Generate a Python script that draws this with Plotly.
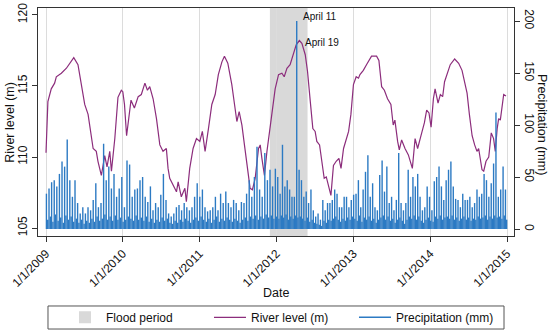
import plotly.graph_objects as go
import pandas as pd

# ---------------- data ----------------
river_dates = [
    "2009-01-01","2009-01-10","2009-01-26","2009-02-11","2009-02-19","2009-03-15","2009-04-08","2009-05-01","2009-05-13","2009-06-02",
    "2009-06-18","2009-07-04","2009-07-20","2009-08-04","2009-08-13","2009-08-28","2009-09-05","2009-09-21","2009-10-07","2009-10-18",
    "2009-10-31","2009-11-08","2009-11-24","2009-12-09","2009-12-25",
    "2010-01-01","2010-01-09","2010-01-19","2010-02-01","2010-02-09","2010-02-25","2010-03-15","2010-03-30","2010-04-16","2010-04-28",
    "2010-05-09","2010-05-25","2010-06-10","2010-06-26","2010-07-11","2010-07-27","2010-08-04","2010-08-12","2010-08-28","2010-09-13",
    "2010-09-21","2010-10-06","2010-10-23","2010-10-30","2010-11-15","2010-12-01","2010-12-17",
    "2011-01-02","2011-01-14","2011-01-27","2011-02-12","2011-02-28","2011-03-16","2011-03-31","2011-04-17","2011-04-29","2011-05-15",
    "2011-06-03","2011-06-16","2011-06-27","2011-07-08","2011-07-21","2011-08-02","2011-08-18","2011-08-29","2011-09-09","2011-09-22",
    "2011-10-08","2011-10-16","2011-10-24","2011-11-05","2011-11-17","2011-12-02","2011-12-18","2011-12-26",
    "2012-01-11","2012-01-27","2012-02-07","2012-02-20","2012-03-06","2012-03-19","2012-04-04","2012-04-19","2012-05-01","2012-05-17",
    "2012-05-28","2012-06-10","2012-06-22","2012-07-03","2012-07-11","2012-07-24","2012-08-04","2012-08-15","2012-08-25","2012-09-05",
    "2012-09-16","2012-09-28","2012-10-11","2012-10-24","2012-11-03","2012-11-15","2012-11-28","2012-12-09","2012-12-20",
    "2013-01-01","2013-01-14","2013-01-25","2013-02-01","2013-02-17","2013-03-04","2013-03-28","2013-04-21","2013-05-02","2013-05-15",
    "2013-05-28","2013-06-12","2013-06-28","2013-07-09","2013-07-17","2013-07-30","2013-08-07","2013-08-18","2013-09-03","2013-09-19",
    "2013-10-08","2013-10-21","2013-11-02","2013-11-18","2013-12-04","2013-12-15","2013-12-26",
    "2014-01-05","2014-01-16","2014-01-24","2014-02-07","2014-02-18","2014-03-01","2014-03-10","2014-03-22","2014-04-06","2014-04-27",
    "2014-05-16","2014-06-01","2014-06-13","2014-06-25","2014-07-06","2014-07-19","2014-07-31","2014-08-11","2014-08-19","2014-08-27",
    "2014-09-04","2014-09-12","2014-09-23","2014-10-06","2014-10-18","2014-10-29","2014-11-06","2014-11-15","2014-11-22","2014-11-30",
    "2014-12-08","2014-12-16","2014-12-27",
]
river_level = [
    110.3,113.9,114.8,115.2,115.65,115.9,116.25,116.7,117.0,116.5,115.1,113.7,113.0,111.5,110.6,110.4,109.7,108.7,110.1,109.3,
    110.4,109.0,111.3,114.2,114.7,
    114.6,113.7,111.5,113.0,114.0,113.45,114.25,114.4,115.2,114.7,114.95,114.1,112.7,110.85,110.4,110.6,109.2,108.5,108.0,107.55,
    108.25,107.2,107.8,106.85,109.2,110.6,111.3,
    111.1,111.8,110.4,112.0,113.7,114.4,115.8,116.7,117.1,116.6,115.1,113.7,112.5,113.2,112.25,110.85,109.2,107.8,107.7,108.5,
    110.6,110.85,109.9,108.7,110.4,112.0,113.6,114.8,
    115.8,115.9,115.65,116.25,116.5,117.2,117.9,118.2,118.0,117.2,116.0,113.9,112.0,111.8,111.1,110.85,109.7,108.5,108.6,108.0,
    107.3,109.4,109.7,109.9,109.2,110.6,111.3,111.8,113.0,
    115.1,115.65,115.55,115.8,116.1,116.5,117.1,117.1,116.8,114.95,114.7,114.1,113.7,112.25,112.6,111.1,110.5,111.2,110.6,110.15,
    109.2,111.3,110.6,111.5,112.4,113.3,113.1,
    112.1,114.1,114.8,113.8,114.4,114.25,115.3,115.9,116.5,116.9,116.6,116.1,115.3,114.5,113.0,111.5,110.85,110.4,110.6,109.7,
    109.1,109.0,109.7,110.0,111.7,111.3,110.4,112.0,112.7,112.6,113.7,114.4,114.3,
]

# precipitation (mm), read left-to-right, 2009-01 .. 2011-12
precip_2009_2011 = [
    34,9, 39,12, 45,7, 47,14, 41,8, 53,11, 65,6, 60,13, 86,9, 47,12, 31,7, 47,10, 25,6, 15,9, 21,5, 15,8, 21,6, 18,10,
    28,7, 44,12, 21,8, 25,10, 82,14, 47,9, 60,12, 39,8, 53,13, 31,9, 39,11, 50,7, 21,9, 66,12, 62,10, 31,8, 38,13, 39,9,
    47,11, 50,8, 31,12, 26,7, 41,10, 18,6, 25,9, 21,7, 33,11, 53,8, 28,10, 15,6, 12,5, 15,8, 21,6, 23,9, 18,7, 25,10,
    21,8, 18,6, 21,9, 31,11, 44,8, 31,12, 38,9, 21,7, 17,10, 18,6, 21,9, 31,12, 18,7, 34,10, 25,8, 36,11, 25,9, 21,7,
    28,10, 25,8, 18,6, 26,9, 25,11, 34,8, 47,12, 31,10, 50,13, 79,9, 38,12, 31,10, 73,14, 47,11, 57,13, 41,10,
]
# precipitation (mm), 2011-12 .. 2014-12
precip_2012_2014 = [
    58,12, 50,10, 34,13, 81,11, 41,14, 47,9, 38,12, 31,10, 31,13, 200,11, 57,12, 47,10, 31,8, 36,11, 25,7, 38,9, 18,6,
    12,5, 15,4, 9,3, 28,8, 18,6, 25,9, 25,8, 28,10, 38,12, 34,9, 21,7, 21,10, 31,8, 31,11, 21,9, 28,12, 33,10, 34,8,
    47,13, 21,7, 38,11, 55,9, 71,12, 31,8, 44,10, 21,6, 18,9, 52,11, 66,13, 36,9, 60,12, 25,8, 31,10, 18,6, 28,9,
    73,11, 25,8, 18,5, 25,9, 57,12, 31,10, 50,13, 41,9, 53,12, 31,8, 18,6, 21,9, 41,11, 31,8, 18,7, 46,12, 50,10,
    60,13, 41,9, 28,11, 47,12, 57,10, 65,13, 41,9, 29,11, 28,8, 21,10, 34,12, 28,9, 28,11, 31,8, 21,10, 25,9, 38,12,
    31,10, 34,11, 53,13, 47,9, 31,12, 44,10, 63,13, 112,11, 31,12, 38,10, 60,13, 38,9,
]

flood_start = "2011-12-01"
flood_end = "2012-05-28"

x_tick_dates = ["2009-01-01","2010-01-01","2011-01-01","2012-01-01","2013-01-01","2014-01-01","2015-01-01"]
x_tick_labels = ["1/1/2009","1/1/2010","1/1/2011","1/1/2012","1/1/2013","1/1/2014","1/1/2015"]
left_ticks = [105, 110, 115, 120]
right_ticks = [0, 50, 100, 150, 200]

# ---------------- build ----------------
d1 = pd.date_range("2009-01-03", "2011-12-20", periods=len(precip_2009_2011))
d2 = pd.date_range("2011-12-27", "2014-12-30", periods=len(precip_2012_2014))
p_dates = list(d1) + list(d2)
p_vals = precip_2009_2011 + precip_2012_2014

px, py = [], []
for d, v in zip(p_dates, p_vals):
    px += [d, d, None]
    py += [0, v, None]

FONT = "Liberation Sans, Arial, sans-serif"
RIVER_COLOR = "#8c2d7c"
PRECIP_COLOR = "#2c7ac3"
AXIS_COLOR = "#333333"

fig = go.Figure()

fig.add_trace(go.Scatter(
    x=px, y=py, mode="lines", name="Precipitation (mm)",
    line=dict(color=PRECIP_COLOR, width=1.4), yaxis="y2", legendrank=3,
    hoverinfo="skip",
))
fig.add_trace(go.Scatter(
    x=river_dates, y=river_level, mode="lines", name="River level (m)",
    line=dict(color=RIVER_COLOR, width=1.2), yaxis="y", legendrank=2,
))

fig.add_shape(type="rect", xref="x", yref="paper", x0=flood_start, x1=flood_end, y0=0, y1=1,
              fillcolor="#d9d9d9", line=dict(width=0), layer="below",
              showlegend=True, name="Flood period", legendrank=1)

# legend frame
fig.add_shape(type="rect", xref="paper", yref="paper", x0=0.021, x1=0.979, y0=-0.408, y1=-0.307,
              line=dict(color="#555555", width=1), fillcolor="rgba(0,0,0,0)", layer="above")

# annotations at maxima
pmax_i = max(range(len(p_vals)), key=lambda i: p_vals[i])
rmax_i = max(range(len(river_level)), key=lambda i: river_level[i])
fig.add_annotation(x=p_dates[pmax_i], y=p_vals[pmax_i], yref="y2", text="April 11",
                   showarrow=False, xanchor="left", yanchor="middle", xshift=4, yshift=5,
                   font=dict(family=FONT, size=10, color="#111"))
fig.add_annotation(x=river_dates[rmax_i], y=river_level[rmax_i], yref="y", text="April 19",
                   showarrow=False, xanchor="left", yanchor="middle", xshift=4, yshift=-2,
                   font=dict(family=FONT, size=10, color="#111"))

# axis titles
fig.add_annotation(xref="paper", yref="paper", x=-0.0595, y=0.5, text="River level (m)",
                   textangle=-90, showarrow=False, xanchor="center", yanchor="middle",
                   font=dict(family=FONT, size=12.5, color="#111"))
fig.add_annotation(xref="paper", yref="paper", x=1.0575, y=0.49, text="Precipitation (mm)",
                   textangle=90, showarrow=False, xanchor="center", yanchor="middle",
                   font=dict(family=FONT, size=12.5, color="#111"))
fig.add_annotation(xref="paper", yref="paper", x=0.5, y=-0.25, text="Date",
                   showarrow=False, xanchor="center", yanchor="middle",
                   font=dict(family=FONT, size=12.5, color="#111"))

fig.update_layout(
    width=550, height=332,
    margin=dict(l=38, r=36, t=8, b=96, autoexpand=False),
    paper_bgcolor="white", plot_bgcolor="white",
    font=dict(family=FONT, size=12, color="#111"),
    showlegend=True,
    legend=dict(orientation="h", x=0.0546, xanchor="left", y=-0.293, yanchor="top",
                borderwidth=0, bgcolor="rgba(0,0,0,0)", font=dict(family=FONT, size=12),
                itemwidth=32, entrywidth=98, entrywidthmode="pixels", traceorder="normal"),
    xaxis=dict(type="date", range=["2008-11-24", "2015-02-03"], automargin=False,
               tickvals=x_tick_dates, ticktext=x_tick_labels, tickangle=-45,
               ticks="outside", ticklen=5, tickcolor=AXIS_COLOR,
               showgrid=True, gridcolor="#dcdcdc", gridwidth=1,
               showline=True, linecolor=AXIS_COLOR, linewidth=1, mirror=True,
               zeroline=False, tickfont=dict(family=FONT, size=12)),
    yaxis=dict(range=[104.44, 120.49], tickvals=left_ticks, tickangle=-90, automargin=False,
               ticks="outside", ticklen=5, tickcolor=AXIS_COLOR,
               showgrid=False, zeroline=False,
               showline=True, linecolor=AXIS_COLOR, linewidth=1,
               tickfont=dict(family=FONT, size=12)),
    yaxis2=dict(range=[-6.7, 212.5], tickvals=right_ticks, tickangle=90, automargin=False,
                overlaying="y", side="right",
                ticks="outside", ticklen=5, tickcolor=AXIS_COLOR,
                showgrid=False, zeroline=False,
                showline=True, linecolor=AXIS_COLOR, linewidth=1,
                tickfont=dict(family=FONT, size=12)),
)

fig.write_html(
    "out.html",
    config={"displayModeBar": False},
    post_script="document.documentElement.style.margin='0';document.body.style.margin='0';"
                "document.body.style.overflow='hidden';",
)
